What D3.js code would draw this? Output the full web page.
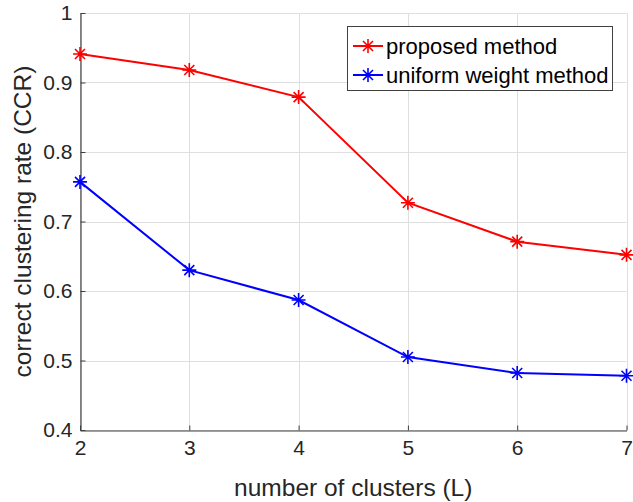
<!DOCTYPE html>
<html>
<head>
<meta charset="utf-8">
<script src="https://cdn.jsdelivr.net/npm/d3@7"></script>
<style>
  body { margin: 0; background: #fff; }
  text { font-family: "Liberation Sans", Arial, sans-serif; }
</style>
</head>
<body>
<script>
var clusters = [2, 3, 4, 5, 6, 7];
var proposed = [0.941, 0.918, 0.879, 0.727, 0.671, 0.652];
var uniform = [0.757, 0.630, 0.587, 0.505, 0.482, 0.478];
var yTicks = [0.4, 0.5, 0.6, 0.7, 0.8, 0.9, 1];
var seriesNames = ["proposed method", "uniform weight method"];
var seriesColors = ["#ff0000", "#0000ff"];

var width = 633, height = 502;
var margin = {left: 80, right: 6, top: 13, bottom: 72};

var svg = d3.select("body").append("svg")
    .attr("width", width)
    .attr("height", height);

var x = d3.scaleLinear().domain([2, 7]).range([margin.left, width - margin.right - 0.5]);
var y = d3.scaleLinear().domain([0.4, 1]).range([height - margin.bottom, margin.top]);

// grid
var grid = svg.append("g").style("stroke", "#dfdfdf").style("stroke-width", 1);
grid.selectAll("line.gx").data(clusters).enter().append("line")
    .attr("x1", function (d) { return Math.round(x(d)) + 0.5; })
    .attr("x2", function (d) { return Math.round(x(d)) + 0.5; })
    .attr("y1", y(1)).attr("y2", y(0.4));
grid.selectAll("line.gy").data(yTicks).enter().append("line")
    .attr("y1", function (d) { return Math.round(y(d)) + 0.5; })
    .attr("y2", function (d) { return Math.round(y(d)) + 0.5; })
    .attr("x1", x(2)).attr("x2", x(7));

// axes
var xAxis = svg.append("g")
    .attr("transform", "translate(0," + (Math.round(y(0.4)) + 0.5) + ")")
    .call(d3.axisBottom(x).tickValues(clusters).tickFormat(d3.format("d")).tickSizeInner(-5).tickSizeOuter(0).tickPadding(10));
var yAxis = svg.append("g")
    .attr("transform", "translate(" + (Math.round(x(2)) + 0.5) + ",0)")
    .call(d3.axisLeft(y).tickValues(yTicks).tickFormat(function (d) { return d === 1 ? "1" : d3.format(".1f")(d); }).tickSizeInner(-5).tickSizeOuter(0).tickPadding(8));

[xAxis, yAxis].forEach(function (a) {
  a.select(".domain").style("stroke", "#404040").style("stroke-width", 1.2);
  a.selectAll(".tick line").style("stroke", "#404040");
  a.selectAll(".tick text").style("font-size", "21px").style("fill", "#262626");
});

// axis labels
svg.append("text")
    .attr("x", (x(2) + x(7)) / 2)
    .attr("y", 496)
    .attr("text-anchor", "middle")
    .style("font-size", "24.5px")
    .style("fill", "#262626")
    .text("number of clusters (L)");
svg.append("text")
    .attr("transform", "translate(31," + ((y(0.4) + y(1)) / 2) + ") rotate(-90)")
    .attr("text-anchor", "middle")
    .style("font-size", "24.5px")
    .style("fill", "#262626")
    .text("correct clustering rate (CCR)");

function star(g, cx, cy, color) {
  var r = 7, d = 5;
  g.append("path")
    .attr("d", "M" + (cx - r) + "," + cy + "h" + 2 * r +
               "M" + cx + "," + (cy - r) + "v" + 2 * r +
               "M" + (cx - d) + "," + (cy - d) + "l" + 2 * d + "," + 2 * d +
               "M" + (cx - d) + "," + (cy + d) + "l" + 2 * d + "," + (-2 * d))
    .style("stroke", color).style("stroke-width", 1.6).style("fill", "none");
}

var line = d3.line()
    .x(function (d, i) { return x(clusters[i]); })
    .y(function (d) { return y(d); });

[proposed, uniform].forEach(function (vals, k) {
  var g = svg.append("g");
  g.append("path").datum(vals)
    .attr("d", line)
    .style("fill", "none")
    .style("stroke", seriesColors[k])
    .style("stroke-width", 2);
  vals.forEach(function (v, i) { star(g, x(clusters[i]), y(v), seriesColors[k]); });
});

// legend
var lg = svg.append("g");
lg.append("rect")
    .attr("x", 347.5).attr("y", 26.5).attr("width", 265).attr("height", 64)
    .style("fill", "#fff").style("stroke", "#404040").style("stroke-width", 1);
seriesNames.forEach(function (name, k) {
  var cy = 46 + k * 29;
  lg.append("line").attr("x1", 353).attr("x2", 383).attr("y1", cy).attr("y2", cy)
    .style("stroke", seriesColors[k]).style("stroke-width", 2);
  star(lg, 368, cy, seriesColors[k]);
  lg.append("text").attr("x", 386).attr("y", cy + 8)
    .style("font-size", "22px").style("fill", "#000")
    .text(name);
});
</script>
</body>
</html>
